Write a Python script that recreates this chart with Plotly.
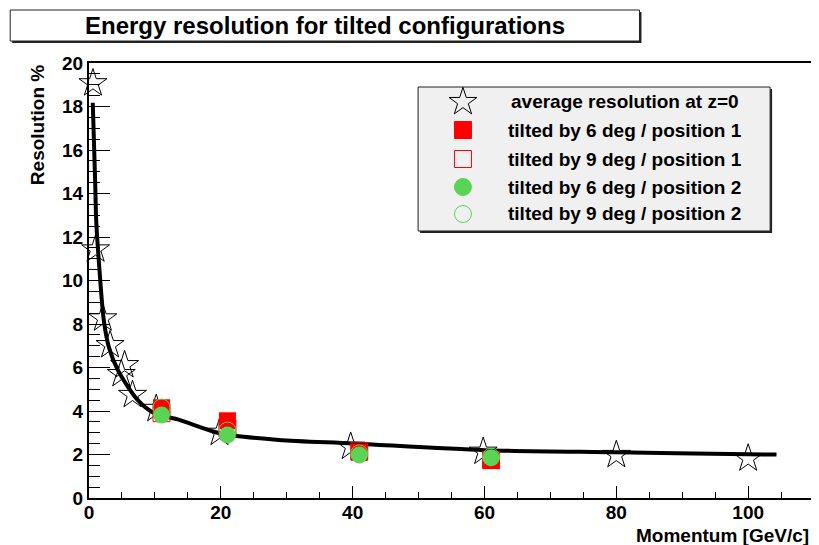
import plotly.graph_objects as go

# values
star_p = [0.6, 1.0, 2.1, 3.2, 4.9, 5.4, 6.6, 10.2, 19.8, 39.7, 59.8, 80.0, 100.0]
star_res = [19.07, 11.43, 8.26, 7.03, 5.70, 6.11, 4.74, 4.1, 3.0, 2.36, 2.13, 1.98, 1.82]

tilt_p = [11, 21, 41, 61]
res_6deg_pos1 = [4.15, 3.55, 2.1, 1.72]
res_9deg_pos1 = [3.9, 3.2, 2.15, 1.75]
res_6deg_pos2 = [3.82, 2.9, 1.98, 1.85]
res_9deg_pos2 = [4.16, 3.1, 2.05, 1.9]

fit_p = [0.57, 0.93, 1.09, 1.48, 2.24, 3.0, 4.36, 7.4, 9.9, 13.7, 19.8, 28.8, 40, 60, 80, 100, 104.3]
fit_res = [18.17, 14.6, 12.78, 10.94, 8.18, 6.95, 5.89, 4.5, 3.9, 3.59, 2.98, 2.67, 2.51, 2.2, 2.1, 2.01, 2.0]

legend_labels = ['average resolution at z=0',
                 'tilted by 6 deg / position 1',
                 'tilted by 9 deg / position 1',
                 'tilted by 6 deg / position 2',
                 'tilted by 9 deg / position 2']

# page pixels (the browser body adds an 8px margin)
W, H, OFF = 819, 545, 8
L, R, T, B = 89, 813, 63, 498
RED = '#ff0000'
GREEN = '#59d454'
FONT = 'Liberation Sans, Arial, Helvetica, sans-serif'


def px(x):
    return (x - L) / (R - L)


def py(y):
    return (B - y) / (B - T)


styles = [
    dict(symbol='star-open', size=21, color='black', opacity=1, line=dict(color='black', width=1)),
    dict(symbol='square', size=17, color=RED, opacity=1, line=dict(width=0)),
    dict(symbol='square-open', size=17, color=RED, opacity=1, line=dict(color=RED, width=1)),
    dict(symbol='circle', size=17, color=GREEN, opacity=1, line=dict(width=0)),
    dict(symbol='circle-open', size=17, color=GREEN, opacity=1, line=dict(color=GREEN, width=1)),
]

fig = go.Figure()

fig.add_trace(go.Scatter(x=star_p, y=star_res, mode='markers', marker=styles[0],
                         showlegend=False, cliponaxis=False))
fig.add_trace(go.Scatter(x=fit_p, y=fit_res, mode='lines', line=dict(color='black', width=4,
                         shape='spline', smoothing=0.8), showlegend=False))
for st, vals in zip(styles[1:], [res_6deg_pos1, res_9deg_pos1, res_6deg_pos2, res_9deg_pos2]):
    fig.add_trace(go.Scatter(x=tilt_p, y=vals, mode='markers', marker=st, showlegend=False))

# legend drawn by hand (ROOT-like box)
leg_y = [102, 130, 159, 187, 214]
fig.add_trace(go.Scatter(
    x=[464] * 5, y=leg_y, mode='markers', xaxis='x2', yaxis='y2', showlegend=False,
    marker=dict(symbol=[s['symbol'] for s in styles],
                size=[21, 17, 17, 17, 17], opacity=1,
                color=['black', RED, RED, GREEN, GREEN],
                line=dict(color=['black', RED, RED, GREEN, GREEN], width=1))))

shapes = [
    dict(type='rect', xref='paper', yref='paper', x0=px(421), x1=px(774), y0=py(89), y1=py(233),
         fillcolor='#222222', line=dict(width=0), layer='below'),
    dict(type='rect', xref='paper', yref='paper', x0=px(419), x1=px(772), y0=py(87), y1=py(231),
         fillcolor='#f0f0f0', line=dict(color='#222222', width=1), layer='below'),
    dict(type='rect', xref='paper', yref='paper', x0=px(12), x1=px(643), y0=py(12), y1=py(43),
         fillcolor='#222222', line=dict(width=0)),
    dict(type='rect', xref='paper', yref='paper', x0=px(10), x1=px(641), y0=py(10), y1=py(41),
         fillcolor='white', line=dict(color='#222222', width=1)),
]

annotations = [
    dict(text='Energy resolution for tilted configurations', xref='paper', yref='paper',
         x=px(326), y=py(26), showarrow=False, xanchor='center', yanchor='middle',
         font=dict(family=FONT, size=24, color='black', weight='bold')),
    dict(text='Momentum [GeV/c]', xref='paper', yref='paper', x=1, y=py(535),
         showarrow=False, xanchor='right', yanchor='middle',
         font=dict(family=FONT, size=19, color='black', weight='bold')),
    dict(text='Resolution %', xref='paper', yref='paper', x=px(37), y=1, textangle=-90,
         showarrow=False, xanchor='center', yanchor='top',
         font=dict(family=FONT, size=19, color='black', weight='bold')),
]
for lab, yy in zip(legend_labels, leg_y):
    annotations.append(dict(text=lab, xref='paper', yref='paper', x=px(626), y=py(yy),
                            showarrow=False, xanchor='center', yanchor='middle',
                            font=dict(family=FONT, size=19, color='black', weight='bold')))

tickfont = dict(family=FONT, size=19, color='black', weight='bold')
fig.update_layout(
    width=W - OFF, height=H - OFF,
    margin=dict(l=L - OFF, r=W - R, t=T - OFF, b=H - B, pad=0),
    paper_bgcolor='white', plot_bgcolor='white',
    showlegend=False,
    xaxis=dict(range=[0, (R - L) / 6.61], tick0=0, dtick=20, ticks='inside', ticklen=12,
               tickwidth=1, tickcolor='black', showgrid=False, zeroline=False,
               showline=True, linecolor='black', linewidth=2, mirror=True,
               tickfont=tickfont, ticklabelstandoff=-4,
               minor=dict(dtick=5, ticks='inside', ticklen=6, tickcolor='black', showgrid=False)),
    yaxis=dict(range=[0, 20], tick0=0, dtick=2, ticks='inside', ticklen=21,
               tickwidth=1, tickcolor='black', showgrid=False, zeroline=False,
               showline=True, linecolor='black', linewidth=2, mirror=True,
               tickfont=tickfont,
               minor=dict(dtick=0.5, ticks='inside', ticklen=11, tickcolor='black', showgrid=False)),
    xaxis2=dict(range=[L, R], overlaying='x', visible=False, fixedrange=True),
    yaxis2=dict(range=[B, T], overlaying='y', visible=False, fixedrange=True),
    shapes=shapes,
    annotations=annotations,
)

fig.write_html("out.html")
